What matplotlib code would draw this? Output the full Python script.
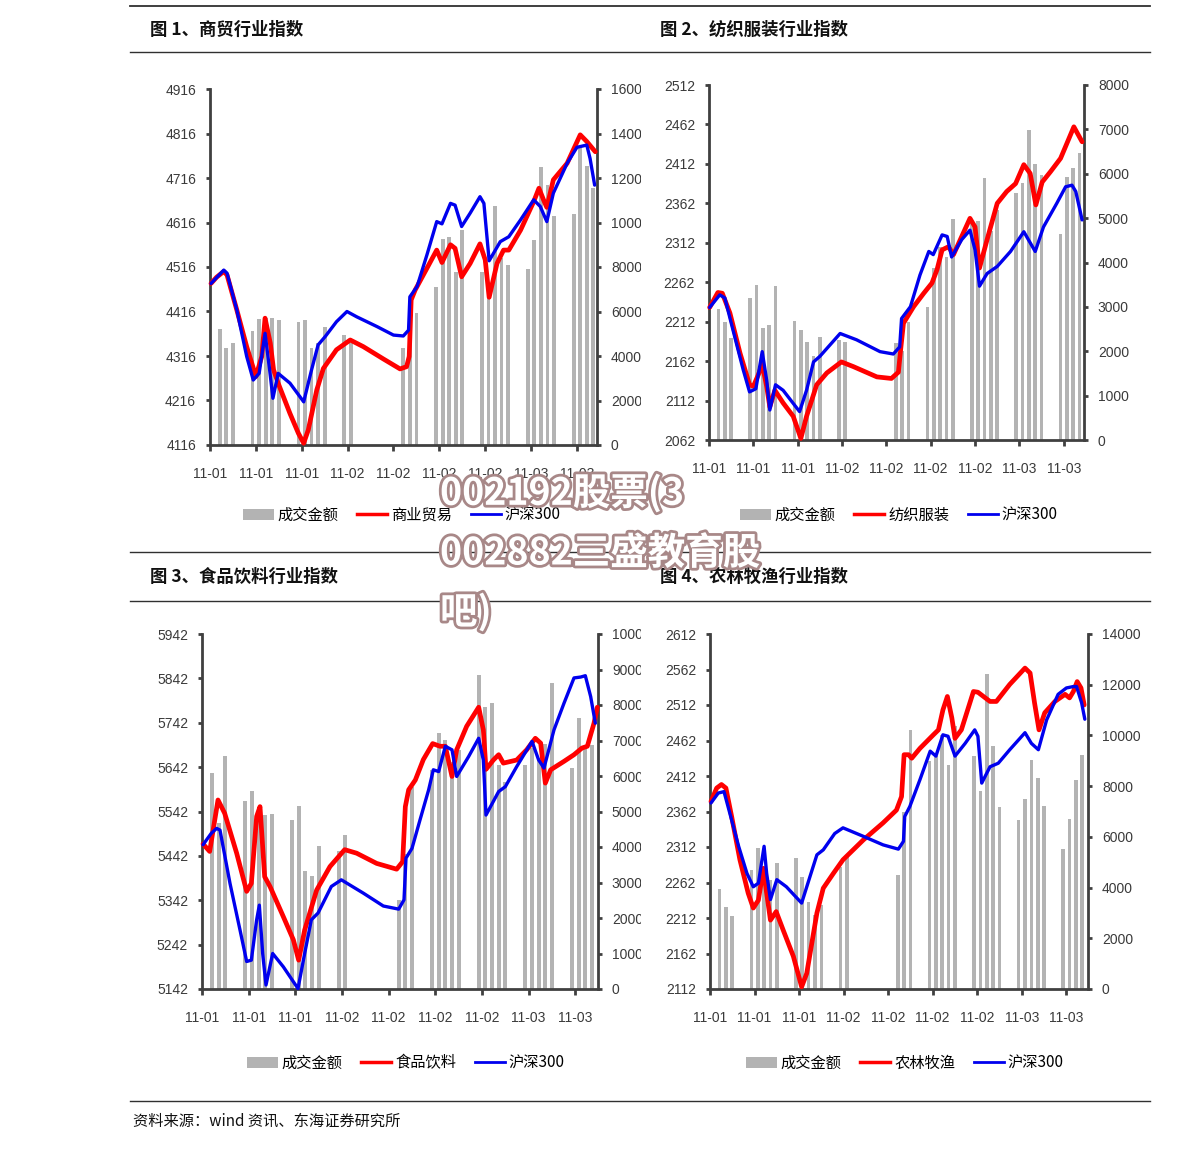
import matplotlib.pyplot as plt
import matplotlib.patheffects as pe
from matplotlib.lines import Line2D
from matplotlib.patches import Patch, Rectangle

W, H = 1191, 1152
plt.rcParams['font.family'] = ['Liberation Sans', 'Noto Sans CJK SC']
CJK = ['Noto Sans CJK SC', 'DejaVu Sans']

# x axis is a day axis, ticks every 7 days
tick_days = [0, 7, 14, 21, 28, 35, 42, 49, 56]
tick_labels = ['11-01', '11-01', '11-01', '11-02', '11-02', '11-02', '11-02', '11-03', '11-03']
bar_days = [1.5, 2.5, 3.5, 6.5, 7.5, 8.5, 9.5, 10.5, 13.5, 14.5, 15.5, 16.5, 17.5,
            20.5, 21.5, 29.5, 30.5, 31.5, 34.5, 35.5, 36.5, 37.5, 38.5,
            41.5, 42.5, 43.5, 44.5, 45.5, 48.5, 49.5, 50.5, 51.5, 52.5,
            55.5, 56.5, 57.5, 58.5]

# 图1 商贸
p1_bars = [5198, 4374, 4599, 5108, 5662, 5722, 5722, 5617, 5543, 5617, 4344, 4569, 5318,
           4943, 4569, 4344, 4869, 5917, 7085, 9243, 9333, 7775, 9662, 7775, 6966, 10741,
           8389, 8089, 7909, 9213, 12508, 11684, 10291, 10381, 13332, 12538, 11535]
p1_red_x = [0.15, 1.0, 2.1, 2.6, 4.1, 5.6, 7.0, 7.9, 8.4, 9.2, 9.7, 10.4, 12.2, 13.5, 14.3,
            15.0, 16.3, 17.3, 19.3, 21.4, 23.4, 26.5, 29.0, 30.0, 30.4, 30.7, 31.3, 33.1,
            34.6, 35.4, 36.7, 37.4, 38.4, 39.7, 41.2, 42.0, 42.6, 43.8, 44.8, 45.6, 47.4,
            49.4, 50.2, 50.9, 51.4, 52.4, 54.5, 56.5, 57.5, 58.8]
p1_red_y = [4479, 4493, 4506, 4498, 4419, 4337, 4270, 4315, 4401, 4345, 4285, 4255, 4187,
            4142, 4120, 4150, 4240, 4288, 4330, 4352, 4337, 4309, 4287, 4292, 4315, 4442,
            4464, 4513, 4554, 4526, 4566, 4558, 4494, 4524, 4568, 4532, 4448, 4524, 4554,
            4554, 4599, 4663, 4693, 4667, 4650, 4712, 4749, 4813, 4798, 4775]
p1_blue_x = [0.15, 2.1, 2.6, 4.1, 5.6, 6.6, 7.5, 8.4, 9.1, 9.6, 10.4, 12.2, 14.3, 15.5, 16.5,
             17.6, 19.3, 20.9, 22.4, 25.5, 28.0, 29.5, 30.3, 30.5, 31.6, 33.1, 34.6, 35.4,
             36.7, 37.4, 38.4, 39.7, 41.2, 41.8, 42.6, 44.3, 45.6, 47.4, 49.4, 50.4, 51.4,
             52.4, 54.5, 56.0, 57.5, 58.0, 58.7]
p1_blue_y = [4479, 4509, 4502, 4419, 4315, 4262, 4277, 4367, 4285, 4221, 4277, 4255, 4213,
             4285, 4341, 4360, 4393, 4416, 4404, 4382, 4363, 4361, 4374, 4449, 4472, 4543,
             4618, 4613, 4659, 4655, 4607, 4637, 4674, 4659, 4530, 4573, 4584, 4622, 4667,
             4652, 4618, 4682, 4749, 4785, 4790, 4760, 4700]

# 图2 纺织服装
p2_bars = [2945, 2667, 2300, 3193, 3493, 2517, 2592, 3471, 2689, 2479, 2216, 1900, 2329,
           2254, 2216, 2180, 2000, 2650, 3005, 3870, 4357, 4132, 4974, 4900, 4936, 5899,
           4700, 5184, 5560, 5800, 6986, 6220, 5972, 4642, 5934, 6122, 6475]
p2_red_x = [0.1, 1.4, 2.1, 3.3, 4.9, 6.4, 7.0, 7.8, 8.4, 9.1, 9.6, 10.4, 11.7, 13.3, 14.5,
            15.4, 17.0, 18.6, 20.9, 22.8, 26.5, 28.8, 29.9, 30.3, 30.7, 32.3, 33.9, 35.2,
            36.0, 36.8, 37.8, 38.6, 39.9, 41.2, 42.0, 42.7, 43.9, 45.5, 47.0, 48.4, 49.7,
            50.7, 51.6, 52.6, 53.9, 55.5, 56.5, 57.6, 58.9]
p2_red_y = [2230, 2249, 2248, 2223, 2172, 2132, 2130, 2145, 2158, 2130, 2104, 2125, 2109,
            2092, 2064, 2092, 2132, 2147, 2161, 2155, 2142, 2140, 2148, 2180, 2210, 2231,
            2248, 2261, 2278, 2303, 2307, 2297, 2320, 2343, 2332, 2280, 2316, 2362, 2377,
            2387, 2411, 2400, 2360, 2389, 2402, 2419, 2438, 2459, 2440]
p2_blue_x = [0.1, 1.7, 2.5, 3.8, 5.4, 6.4, 7.4, 8.4, 9.1, 9.6, 10.5, 11.7, 14.3, 15.4, 16.5,
             17.5, 20.7, 23.3, 27.0, 29.1, 30.1, 30.4, 31.8, 33.3, 34.7, 35.4, 36.8, 37.6,
             38.3, 39.9, 41.2, 42.0, 42.7, 43.9, 45.5, 47.6, 49.7, 51.5, 52.8, 54.9, 56.3,
             57.3, 57.9, 58.9]
p2_blue_y = [2230, 2246, 2242, 2201, 2151, 2123, 2127, 2174, 2138, 2100, 2132, 2125, 2098,
             2125, 2161, 2168, 2197, 2189, 2174, 2171, 2180, 2216, 2231, 2271, 2301, 2297,
             2322, 2320, 2294, 2316, 2328, 2303, 2257, 2273, 2282, 2301, 2326, 2301, 2332,
             2362, 2383, 2385, 2377, 2341]

# 图3 食品饮料
p3_bars = [6081, 4671, 6550, 5300, 5582, 4700, 4906, 4925, 4765, 5169, 3327, 3186, 4032,
           3900, 4342, 2500, 3800, 5700, 6169, 7203, 7014, 6400, 6733, 8845, 7953, 8047,
           6300, 5840, 6315, 6800, 6500, 6908, 8618, 6234, 7626, 6826, 6873]
p3_red_x = [0.15, 1.15, 2.4, 3.4, 5.2, 6.7, 7.4, 8.2, 8.7, 9.4, 10.2, 12.2, 13.7, 14.5, 15.4,
            17.2, 19.2, 21.4, 23.2, 26.2, 29.2, 30.1, 30.5, 31.0, 32.0, 33.2, 34.6, 35.7,
            36.5, 37.5, 38.2, 39.7, 41.5, 42.2, 42.6, 43.7, 44.5, 45.2, 47.2, 48.7, 50.0,
            50.8, 51.5, 52.3, 54.3, 55.8, 57.0, 57.8, 58.8, 59.3]
p3_red_y = [5469, 5452, 5568, 5538, 5448, 5362, 5380, 5531, 5553, 5395, 5373, 5305, 5253,
            5207, 5275, 5365, 5418, 5456, 5448, 5425, 5412, 5429, 5553, 5591, 5613, 5659,
            5695, 5689, 5689, 5621, 5681, 5734, 5777, 5726, 5637, 5658, 5670, 5651, 5658,
            5681, 5707, 5696, 5606, 5636, 5655, 5670, 5685, 5689, 5741, 5777]
p3_blue_x = [0.15, 1.4, 2.2, 2.7, 4.2, 5.7, 6.7, 7.4, 8.2, 8.6, 9.1, 9.6, 10.6, 12.2, 14.4,
             15.4, 16.4, 17.4, 19.4, 20.9, 24.2, 27.2, 29.5, 30.3, 30.6, 31.5, 32.7, 34.0,
             34.7, 35.5, 36.5, 37.5, 38.2, 40.0, 41.5, 42.2, 42.6, 44.5, 45.5, 47.2, 49.5,
             50.5, 51.3, 52.8, 54.3, 55.8, 56.8, 57.5, 58.3, 59.0]
p3_blue_y = [5467, 5493, 5504, 5500, 5380, 5275, 5204, 5207, 5298, 5331, 5222, 5151, 5222,
             5192, 5143, 5222, 5298, 5313, 5373, 5388, 5358, 5329, 5322, 5343, 5437, 5459,
             5523, 5591, 5636, 5632, 5689, 5681, 5621, 5666, 5707, 5658, 5534, 5587, 5598,
             5643, 5700, 5658, 5640, 5726, 5786, 5843, 5845, 5848, 5801, 5741]

# 图4 农林牧渔
p4_bars = [3934, 3224, 2882, 4693, 5549, 4760, 4299, 4982, 5155, 4430, 3443, 2900, 3300,
           4829, 5289, 4500, 7000, 10224, 9000, 9171, 10000, 8842, 10355, 9171, 7800, 12434,
           9592, 7171, 6671, 7487, 9013, 8316, 7224, 5513, 6697, 8224, 9237]
p4_red_x = [0.15, 1.05, 1.8, 2.5, 3.4, 4.7, 6.0, 6.8, 7.6, 8.4, 8.9, 9.5, 10.4, 11.5, 13.1,
            14.4, 15.2, 16.8, 17.8, 19.4, 20.9, 24.1, 27.2, 29.3, 30.1, 30.5, 31.2, 31.7,
            33.0, 35.1, 35.9, 36.6, 37.3, 38.0, 38.5, 39.5, 41.4, 42.1, 44.0, 45.0, 47.1,
            49.5, 50.3, 51.0, 51.7, 52.6, 54.2, 55.8, 56.5, 57.1, 57.7, 58.3, 58.8]
p4_red_y = [2376, 2395, 2400, 2395, 2355, 2294, 2247, 2226, 2237, 2282, 2247, 2209, 2221,
            2195, 2158, 2115, 2134, 2219, 2254, 2275, 2294, 2322, 2346, 2364, 2383, 2442,
            2442, 2437, 2451, 2470, 2477, 2505, 2524, 2494, 2465, 2477, 2531, 2530, 2517,
            2517, 2541, 2564, 2557, 2515, 2477, 2501, 2517, 2527, 2522, 2531, 2545, 2536, 2512]
p4_blue_x = [0.15, 1.3, 2.2, 3.1, 4.5, 5.8, 6.8, 7.6, 8.5, 8.9, 9.5, 10.5, 12.0, 14.4, 15.7,
             16.8, 17.8, 19.6, 20.9, 24.1, 27.2, 29.6, 30.4, 30.6, 31.4, 33.0, 34.6, 35.5,
             36.6, 37.4, 38.5, 40.1, 41.6, 42.1, 42.7, 44.0, 45.3, 47.1, 49.5, 50.5, 51.6,
             52.9, 54.7, 56.0, 57.1, 57.6, 58.4, 58.9]
p4_blue_y = [2374, 2388, 2390, 2360, 2313, 2275, 2256, 2261, 2313, 2275, 2238, 2266, 2256,
             2233, 2270, 2301, 2308, 2331, 2339, 2327, 2315, 2309, 2320, 2355, 2369, 2407,
             2447, 2440, 2470, 2468, 2440, 2458, 2477, 2468, 2402, 2425, 2430, 2449, 2473,
             2458, 2449, 2491, 2527, 2536, 2538, 2538, 2515, 2492]

GRAY = '#b3b3b3'
AX = '#404040'

fig = plt.figure(figsize=(W / 100, H / 100), dpi=100)


def px_rect(x0, x1, y0, y1):
    return [x0 / W, 1 - y1 / H, (x1 - x0) / W, (y1 - y0) / H]


def draw_panel(rect, xmax, bars, rx, ry, bx, by, ylo, yhi, ystep, rhi, rstep, name, leg_xy):
    ax = fig.add_axes(rect)
    ax2 = ax.twinx()
    ax2.bar(bar_days, bars, width=0.58, color=GRAY, linewidth=0)
    ax.plot(rx, ry, color='#ff0000', lw=3.4, solid_joinstyle='round', solid_capstyle='round',
            clip_on=False, zorder=3)
    ax.plot(bx, by, color='#0000ee', lw=2.4, solid_joinstyle='round', solid_capstyle='round',
            clip_on=False, zorder=4)
    ax.set_zorder(ax2.get_zorder() + 1)
    ax.patch.set_visible(False)

    ax.set_xlim(0, xmax)
    ax.set_ylim(ylo, yhi)
    ax2.set_ylim(0, rhi)
    ax.set_xticks(tick_days, tick_labels)
    yt = list(range(ylo, yhi + 1, ystep))
    ax.set_yticks(yt, [str(v) for v in yt])
    rt = list(range(0, rhi + 1, rstep))
    ax2.set_yticks(rt, [str(v) for v in rt])

    for s in ['top', 'right']:
        ax.spines[s].set_visible(False)
    for s in ['top', 'left', 'bottom']:
        ax2.spines[s].set_visible(False)
    for s in ['left', 'bottom']:
        ax.spines[s].set_color(AX)
        ax.spines[s].set_linewidth(2.0)
    ax2.spines['right'].set_color(AX)
    ax2.spines['right'].set_linewidth(2.0)

    ax.tick_params(axis='x', length=4, width=2, color=AX, pad=12, labelsize=10, labelcolor='#3a3a3a')
    ax.tick_params(axis='y', length=3, width=2, color=AX, pad=7, labelsize=10, labelcolor='#3a3a3a')
    ax2.tick_params(axis='y', length=3, width=2, color=AX, pad=7, labelsize=10, labelcolor='#3a3a3a')

    handles = [Patch(facecolor=GRAY, edgecolor='none'),
               Line2D([], [], color='#ff0000', lw=2.5),
               Line2D([], [], color='#0000ee', lw=2.0)]
    fig.legend(handles, ['成交金额', name, '沪深300'], loc='center',
               bbox_to_anchor=(leg_xy[0] / W, 1 - leg_xy[1] / H), ncol=3, frameon=False,
               prop={'family': CJK, 'size': 11}, handlelength=2.0, handletextpad=0.25,
               columnspacing=1.2, borderpad=0)
    return ax


draw_panel(px_rect(210, 597, 89, 445), 59.06, p1_bars, p1_red_x, p1_red_y, p1_blue_x, p1_blue_y,
           4116, 4916, 100, 16000, 2000, '商业贸易', (402, 515))
draw_panel(px_rect(709, 1084, 85, 440), 59.2, p2_bars, p2_red_x, p2_red_y, p2_blue_x, p2_blue_y,
           2062, 2512, 50, 8000, 1000, '纺织服装', (899, 515))
draw_panel(px_rect(202, 598, 634, 989), 59.4, p3_bars, p3_red_x, p3_red_y, p3_blue_x, p3_blue_y,
           5142, 5942, 100, 10000, 1000, '食品饮料', (406, 1063))
draw_panel(px_rect(710, 1088, 634, 989), 59.4, p4_bars, p4_red_x, p4_red_y, p4_blue_x, p4_blue_y,
           2112, 2612, 50, 14000, 2000, '农林牧渔', (905, 1063))

# the right-hand labels of the left charts are cut off in the source document
for y0, y1 in [(75, 452), (622, 996)]:
    fig.add_artist(Rectangle((641 / W, 1 - y1 / H), 14 / W, (y1 - y0) / H,
                             transform=fig.transFigure, facecolor='white', edgecolor='none',
                             zorder=5))

# horizontal rules
for y, lw in [(6, 1.3), (52, 1.0), (552, 1.0), (601, 1.0), (1101, 1.0)]:
    fig.add_artist(Line2D([130 / W, 1150 / W], [1 - y / H, 1 - y / H], transform=fig.transFigure,
                          color='#303030', lw=lw))

titles = [('图 1、商贸行业指数', 150, 30), ('图 2、纺织服装行业指数', 660, 30),
          ('图 3、食品饮料行业指数', 150, 577), ('图 4、农林牧渔行业指数', 660, 577)]
for t, x, y in titles:
    fig.text(x / W, 1 - y / H, t, family=CJK, fontsize=12.5, weight='bold', va='center',
             ha='left', color='#111111')

fig.text(133 / W, 1 - 1121 / H, '资料来源：wind 资讯、东海证券研究所', family=CJK,
         fontsize=11, style='italic', va='center', ha='left', color='#111111')

# watermark
wm = pe.withStroke(linewidth=4, foreground='#a88888')
for t, y in [('002192股票(3', 493), ('002882三盛教育股', 553), ('吧)', 612)]:
    fig.text(440 / W, 1 - y / H, t, family=CJK, fontsize=27, weight='bold', color='white',
             va='center', ha='left', path_effects=[wm], zorder=10)

fig.savefig('out.png', dpi=100)
